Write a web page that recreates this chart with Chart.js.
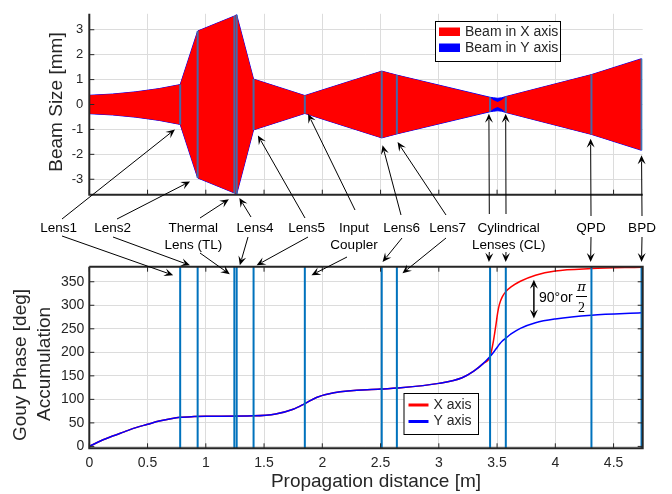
<!DOCTYPE html>
<html>
<head>
<meta charset="utf-8">
<script src="https://cdn.jsdelivr.net/npm/chart.js@4.4.1/dist/chart.umd.min.js"></script>
<style>
  html, body { margin: 0; padding: 0; background: #fff; }
  #wrap { position: relative; width: 672px; height: 494px; overflow: hidden; }
  #wrap canvas { position: absolute; left: 0; top: 0; }
</style>
</head>
<body>
<div id="wrap">
  <canvas id="beamChart" width="672" height="494"></canvas>
  <canvas id="gouyChart" width="672" height="494"></canvas>
  <canvas id="notes" width="672" height="494"></canvas>
</div>
<script>
// --- Data ---

const distTicks = [0, 0.5, 1, 1.5, 2, 2.5, 3, 3.5, 4, 4.5];
const beamTicks = [-3, -2, -1, 0, 1, 2, 3];
const gouyTicks = [0, 50, 100, 150, 200, 250, 300, 350];

// optics positions along the path [m]
const lensPos = [0.78, 0.93, 1.245, 1.265, 1.41, 1.85, 2.51, 2.64, 3.44, 3.575, 4.31, 4.74];
// beam radius at each optic [mm]
const lensBeam = [0.80, 2.95, 3.55, 3.60, 1.02, 0.36, 1.34, 1.18, 0.29, 0.32, 1.20, 1.84];

// beam envelope [m] -> [mm]
const beamPos = [0, 0.2, 0.4, 0.6, 0.78, 0.93, 1.245, 1.265, 1.41, 1.85, 2.51, 2.64, 3.44, 3.47, 3.505, 3.54, 3.575, 4.31, 4.74];
const beamX   = [0.37, 0.42, 0.51, 0.64, 0.80, 2.95, 3.55, 3.60, 1.02, 0.36, 1.34, 1.18, 0.28, 0.17, 0.10, 0.18, 0.32, 1.20, 1.84];
const beamY   = [0.37, 0.42, 0.51, 0.64, 0.80, 2.95, 3.55, 3.60, 1.02, 0.36, 1.34, 1.18, 0.29, 0.27, 0.25, 0.27, 0.32, 1.20, 1.84];

// accumulated Gouy phase [deg]
const gouyPos = [0, 0.1, 0.2, 0.3, 0.4, 0.5, 0.6, 0.7, 0.78, 0.9, 1.0, 1.41, 1.6, 1.75, 1.85, 1.95, 2.1, 2.5, 2.64, 3.0, 3.2, 3.3, 3.38, 3.44, 3.47, 3.49, 3.505, 3.52, 3.545, 3.575, 3.62, 3.7, 3.83, 4.0, 4.31, 4.74];
const gouyX   = [0, 12, 22, 31, 40, 47, 54, 59, 62, 63.5, 64, 65, 69, 79, 91, 104, 114, 122, 124, 134, 146, 160, 176, 191, 226, 258, 284, 302, 318, 329, 339, 351, 364, 373, 378, 381];
const gouyY   = [0, 12, 22, 31, 40, 47, 54, 59, 62, 63.5, 64, 65, 69, 79, 91, 104, 114, 122, 124, 134, 146, 160, 176, 191, 200, 207, 212, 217, 224, 230, 239, 251, 263, 271, 279, 284];

const beamLabels = ['Beam in X axis', 'Beam in Y axis'];
const gouyLabels = ['X axis', 'Y axis'];

// --- Layout ---
const W = 672, H = 494;
const LEFT = 89.3, RIGHT = 642.7;
const TOP1 = 11.7, BOTTOM1 = 194.7;
const TOP2 = 266.7, BOTTOM2 = 448.3;
const FONT = '"Liberation Sans", Arial, Helvetica, sans-serif';
const INK = '#262626';
const GRID = '#dcdcdc';
const LENS_BLUE = '#0072BD';

Chart.defaults.font.family = FONT;
Chart.defaults.color = INK;

const pts = (xs, ys, sign = 1) => xs.map((x, i) => ({ x: x, y: sign * ys[i] }));

// MATLAB style: inward ticks, axis lines, optional box
const matlabAxes = {
  id: 'matlabAxes',
  afterDraw(chart, args, opts) {
    const { ctx, chartArea: a, scales: { x, y } } = chart;
    const len = 5;
    ctx.save();
    ctx.strokeStyle = INK;
    ctx.lineWidth = 1;
    ctx.beginPath();
    x.ticks.forEach(t => {
      const px = x.getPixelForValue(t.value);
      ctx.moveTo(px, a.bottom); ctx.lineTo(px, a.bottom - len);
      if (opts.box) { ctx.moveTo(px, a.top); ctx.lineTo(px, a.top + len); }
    });
    y.ticks.forEach(t => {
      const py = y.getPixelForValue(t.value);
      ctx.moveTo(a.left, py); ctx.lineTo(a.left + len, py);
      if (opts.box) { ctx.moveTo(a.right, py); ctx.lineTo(a.right - len, py); }
    });
    ctx.stroke();
    ctx.lineWidth = 2;
    ctx.beginPath();
    ctx.moveTo(a.left, a.top); ctx.lineTo(a.left, a.bottom); ctx.lineTo(a.right, a.bottom);
    if (opts.box) { ctx.lineTo(a.right, a.top); ctx.lineTo(a.left, a.top); }
    ctx.stroke();
    ctx.restore();
  }
};

function axisX(bottomEdge, showLabels) {
  return {
    type: 'linear', min: 0, max: 4.75,
    afterBuildTicks: s => { s.ticks = distTicks.map(v => ({ value: v })); },
    afterFit: s => { s.height = H - bottomEdge; },
    grid: { color: GRID, drawTicks: false },
    border: { display: false },
    ticks: { display: showLabels, padding: 6, font: { size: 14 }, color: INK, maxRotation: 0, callback: v => String(v) }
  };
}

// --- Top: beam size ---
const beamDatasets = [
  { label: beamLabels[1], data: pts(beamPos, beamY), borderColor: '#0000ff', borderWidth: 1, backgroundColor: '#0000ff', fill: '+1', order: 3 },
  { label: beamLabels[1], data: pts(beamPos, beamY, -1), borderColor: '#0000ff', borderWidth: 1, fill: false, order: 3 },
  { label: beamLabels[0], data: pts(beamPos, beamX), borderWidth: 0, borderColor: '#ff0000', backgroundColor: '#ff0000', fill: '+1', order: 2 },
  { label: beamLabels[0], data: pts(beamPos, beamX, -1), borderWidth: 0, borderColor: '#ff0000', fill: false, order: 2 }
];
lensPos.forEach((z, i) => {
  beamDatasets.push({
    data: [{ x: z, y: -lensBeam[i] }, { x: z, y: lensBeam[i] }],
    borderColor: 'rgba(50,115,185,0.9)', borderWidth: 2, fill: false, order: 1
  });
});

const beamChart = new Chart(document.getElementById('beamChart'), {
  type: 'line',
  data: { datasets: beamDatasets },
  options: {
    responsive: false, animation: false, devicePixelRatio: 1,
    layout: { padding: { left: 0, top: TOP1, right: W - RIGHT, bottom: 0 } },
    elements: { point: { radius: 0 }, line: { tension: 0 } },
    plugins: { legend: { display: false }, tooltip: { enabled: false }, matlabAxes: { box: false } },
    scales: {
      x: axisX(BOTTOM1, false),
      y: {
        min: -3.62, max: 3.64,
        afterBuildTicks: s => { s.ticks = beamTicks.map(v => ({ value: v })); },
        afterFit: s => { s.width = LEFT; },
        grid: { color: GRID, drawTicks: false },
        border: { display: false },
        ticks: { padding: 6, font: { size: 13 }, color: INK, callback: v => String(v) }
      }
    }
  },
  plugins: [matlabAxes]
});

// --- Bottom: Gouy phase ---
const gouyDatasets = [
  { label: gouyLabels[0], data: pts(gouyPos, gouyX), borderColor: '#ff0000', borderWidth: 1.5, fill: false, order: 3, cubicInterpolationMode: 'monotone' },
  { label: gouyLabels[1], data: pts(gouyPos, gouyY), borderColor: '#0000ff', borderWidth: 1.5, fill: false, order: 2, cubicInterpolationMode: 'monotone' }
];
lensPos.forEach(z => {
  gouyDatasets.push({
    data: [{ x: z, y: -10 }, { x: z, y: 400 }],
    borderColor: LENS_BLUE, borderWidth: 2, fill: false, order: 1
  });
});

const gouyChart = new Chart(document.getElementById('gouyChart'), {
  type: 'line',
  data: { datasets: gouyDatasets },
  options: {
    responsive: false, animation: false, devicePixelRatio: 1,
    layout: { padding: { left: 0, top: TOP2, right: W - RIGHT, bottom: 0 } },
    elements: { point: { radius: 0 }, line: { tension: 0 } },
    plugins: { legend: { display: false }, tooltip: { enabled: false }, matlabAxes: { box: true } },
    scales: {
      x: axisX(BOTTOM2, true),
      y: {
        min: -4, max: 382,
        afterBuildTicks: s => { s.ticks = gouyTicks.map(v => ({ value: v })); },
        afterFit: s => { s.width = LEFT; },
        grid: { color: GRID, drawTicks: false },
        border: { display: false },
        ticks: { padding: 5, font: { size: 14 }, color: INK, callback: v => String(v) }
      }
    }
  },
  plugins: [matlabAxes]
});

// --- Annotations, legends, axis titles ---
const ctx = document.getElementById('notes').getContext('2d');
const bx = beamChart.scales.x, by = beamChart.scales.y;
const gx = gouyChart.scales.x, gy = gouyChart.scales.y;

function arrowHead(x1, y1, ang) {
  const L = 9, Wd = 4;
  ctx.beginPath();
  ctx.moveTo(x1, y1);
  ctx.lineTo(x1 - L * Math.cos(ang) + Wd * Math.sin(ang), y1 - L * Math.sin(ang) - Wd * Math.cos(ang));
  ctx.lineTo(x1 - 0.6 * L * Math.cos(ang), y1 - 0.6 * L * Math.sin(ang));
  ctx.lineTo(x1 - L * Math.cos(ang) - Wd * Math.sin(ang), y1 - L * Math.sin(ang) + Wd * Math.cos(ang));
  ctx.closePath();
  ctx.fill();
}
function arrow(x0, y0, x1, y1) {
  const ang = Math.atan2(y1 - y0, x1 - x0);
  ctx.beginPath();
  ctx.moveTo(x0, y0);
  ctx.lineTo(x1 - 6 * Math.cos(ang), y1 - 6 * Math.sin(ang));
  ctx.stroke();
  arrowHead(x1, y1, ang);
}

// label text, centre x, tails in px, tips in data units (top: [m, mm], bottom: [m, deg])
const callouts = [
  { text: ['Lens1'], cx: 58.7, up: [[62, 219, 0.735, -1.0]], down: [[62, 236, 0.72, 364]] },
  { text: ['Lens2'], cx: 112.7, up: [[117, 219, 0.865, -3.09]], down: [[113, 237, 0.864, 385]] },
  { text: ['Thermal', 'Lens (TL)'], cx: 193.3, up: [[200, 218, 1.198, -3.8]], down: [[200, 253, 1.206, 366]] },
  { text: ['Lens4'], cx: 255, up: [[251, 217, 1.288, -3.75]], down: [[248, 237, 1.292, 385]] },
  { text: ['Lens5'], cx: 306.7, up: [[305, 218, 1.447, -1.24]], down: [[308, 237, 1.436, 385]] },
  { text: ['Input', 'Coupler'], cx: 354, up: [[355, 210, 1.878, -0.38]], down: [[347, 257, 1.907, 364]] },
  { text: ['Lens6'], cx: 401.7, up: [[401, 215, 2.517, -1.64]], down: [[402, 238, 2.517, 392]] },
  { text: ['Lens7'], cx: 447.7, up: [[446, 215, 2.646, -1.51]], down: [[446, 238, 2.688, 368]] },
  { text: ['Cylindrical', 'Lenses (CL)'], cx: 508.7,
    up: [[489.3, 214, 3.43, -0.37], [506, 214, 3.574, -0.37]],
    down: [[489.3, 252, 3.43, 392], [506, 252, 3.574, 392]] },
  { text: ['QPD'], cx: 591, up: [[591, 216, 4.303, -1.37]], down: [[591, 237, 4.303, 392]] },
  { text: ['BPD'], cx: 642, up: [[642, 216, 4.74, -2.04]], down: [[642, 237, 4.74, 392]] }
];

ctx.strokeStyle = '#000';
ctx.fillStyle = '#000';
ctx.lineWidth = 1;
ctx.font = '13.5px ' + FONT;
ctx.textAlign = 'center';
ctx.textBaseline = 'middle';
callouts.forEach(c => {
  c.text.forEach((t, i) => ctx.fillText(t, c.cx, 228.5 + i * 17));
  c.up.forEach(a => arrow(a[0], a[1], bx.getPixelForValue(a[2]), by.getPixelForValue(a[3])));
  c.down.forEach(a => arrow(a[0], a[1], gx.getPixelForValue(a[2]), gy.getPixelForValue(a[3])));
});

// 90 deg gap marker
const gapX = gx.getPixelForValue(3.816);
const gapTop = gy.getPixelForValue(354), gapBot = gy.getPixelForValue(272);
ctx.lineWidth = 1.5;
ctx.beginPath();
ctx.moveTo(gapX, gapTop + 6); ctx.lineTo(gapX, gapBot - 6);
ctx.stroke();
arrowHead(gapX, gapTop, -Math.PI / 2);
arrowHead(gapX, gapBot, Math.PI / 2);
ctx.textAlign = 'left';
ctx.font = '14px ' + FONT;
ctx.fillText('90°or', 539, 298.5);
ctx.textAlign = 'center';
ctx.font = 'italic 13px "DejaVu Serif", serif';
ctx.fillText('π', 581.5, 288);
ctx.font = '14px "Liberation Serif", serif';
ctx.fillText('2', 581.5, 308.5);
ctx.lineWidth = 1;
ctx.beginPath(); ctx.moveTo(576, 296.5); ctx.lineTo(587, 296.5); ctx.stroke();

// top legend
ctx.fillStyle = '#fff';
ctx.fillRect(435, 21, 125, 40);
ctx.strokeStyle = '#000';
ctx.lineWidth = 1;
ctx.strokeRect(435.5, 21.5, 125, 40);
ctx.fillStyle = '#ff0000'; ctx.fillRect(439, 27.5, 21, 8.5);
ctx.fillStyle = '#0000ff'; ctx.fillRect(439, 43.5, 21, 8.5);
ctx.fillStyle = INK;
ctx.font = '14px ' + FONT;
ctx.textAlign = 'left';
ctx.fillText(beamLabels[0], 465, 32.5);
ctx.fillText(beamLabels[1], 465, 48.5);

// bottom legend
ctx.fillStyle = '#fff';
ctx.fillRect(404, 393.5, 74.5, 41);
ctx.strokeRect(404, 393.5, 74.5, 41);
ctx.lineWidth = 3;
ctx.strokeStyle = '#ff0000';
ctx.beginPath(); ctx.moveTo(408.5, 405); ctx.lineTo(428.5, 405); ctx.stroke();
ctx.strokeStyle = '#0000ff';
ctx.beginPath(); ctx.moveTo(408.5, 421.5); ctx.lineTo(428.5, 421.5); ctx.stroke();
ctx.fillStyle = INK;
ctx.fillText(gouyLabels[0], 433.5, 405);
ctx.fillText(gouyLabels[1], 433.5, 421.5);

// axis titles
ctx.font = '19px ' + FONT;
ctx.textAlign = 'center';
ctx.fillText('Propagation distance [m]', 376, 482);
function vText(t, x, y) {
  ctx.save(); ctx.translate(x, y); ctx.rotate(-Math.PI / 2); ctx.fillText(t, 0, 0); ctx.restore();
}
vText('Beam Size [mm]', 57, 102);
vText('Gouy Phase [deg]', 21, 365);
vText('Accumulation', 45, 364);
</script>
</body>
</html>
